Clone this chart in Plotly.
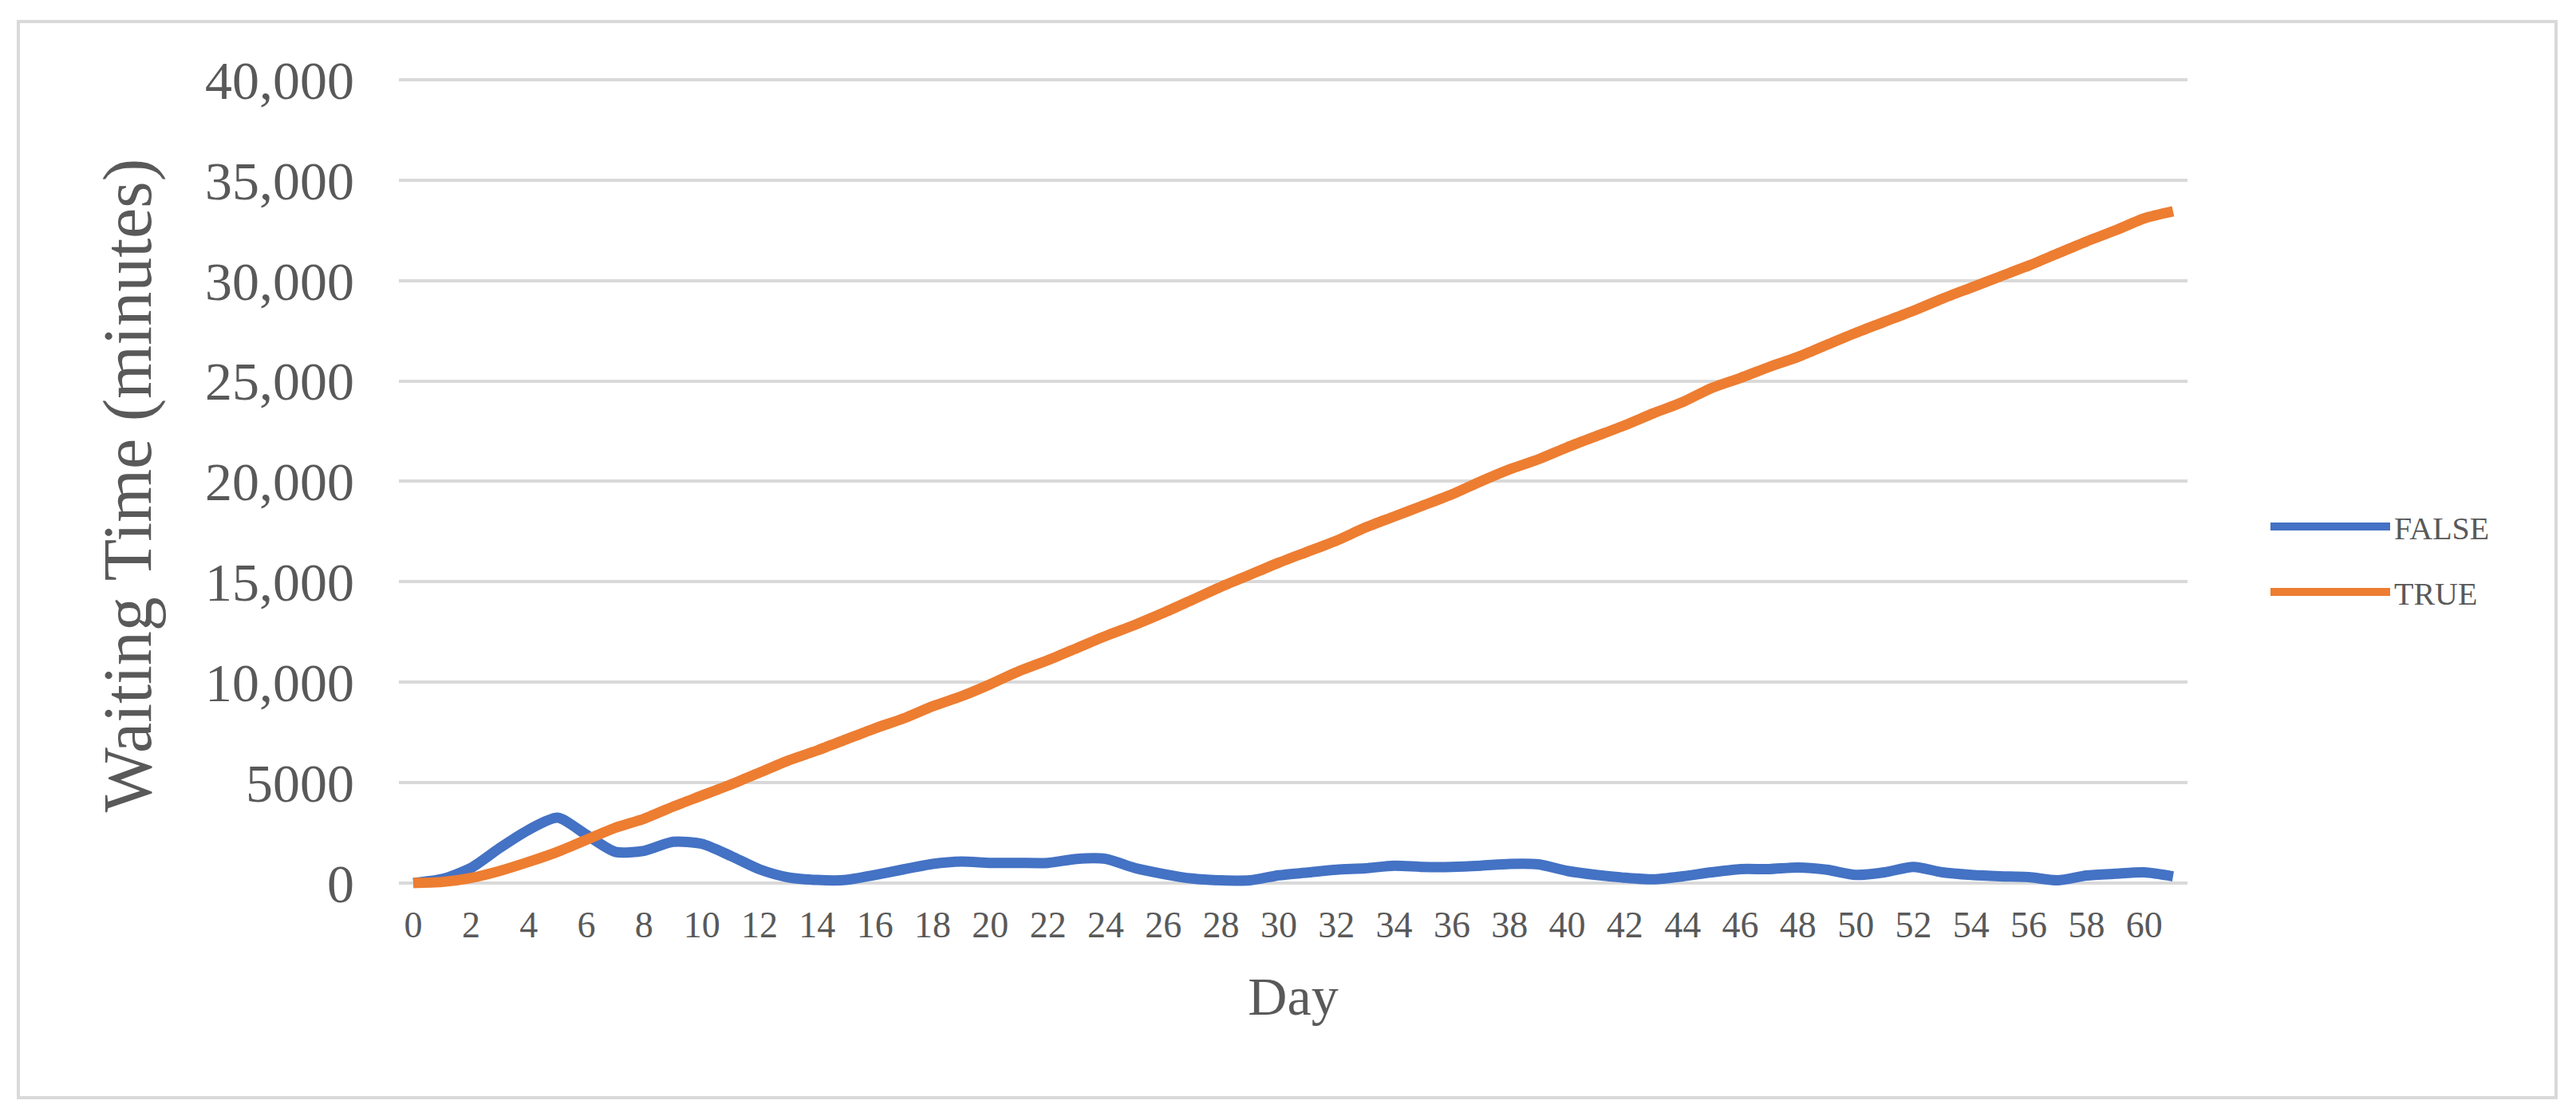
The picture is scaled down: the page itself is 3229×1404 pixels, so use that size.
import plotly.graph_objects as go

# ---- data ----
days = list(range(0, 62))
false_wait = [0, 200, 750, 1750, 2650, 3250, 2400, 1550, 1600, 2050,
              1950, 1350, 680, 280, 150, 150, 400, 680, 950, 1070,
              1000, 1000, 1000, 1200, 1200, 750, 450, 220, 130, 130,
              380, 520, 660, 730, 860, 800, 800, 860, 950, 930,
              600, 400, 260, 180, 330, 530, 690, 690, 770, 660,
              400, 530, 800, 530, 400, 330, 290, 130, 370, 460,
              530, 330]
true_wait = [0, 50, 250, 600, 1050, 1550, 2150, 2750, 3200, 3800,
             4350, 4900, 5500, 6100, 6600, 7150, 7700, 8200, 8800, 9300,
             9900, 10550, 11100, 11700, 12300, 12850, 13450, 14100, 14750, 15350,
             15950, 16500, 17050, 17700, 18250, 18800, 19350, 20000, 20600, 21100,
             21700, 22250, 22800, 23400, 23950, 24650, 25150, 25700, 26200, 26800,
             27400, 27950, 28500, 29100, 29650, 30200, 30750, 31350, 31950, 32500,
             33100, 33450]
series_names = ["FALSE", "TRUE"]
series_colors = ["#4472C4", "#ED7D31"]
x_tick_vals = list(range(0, 61, 2))
y_tick_vals = [0, 5000, 10000, 15000, 20000, 25000, 30000, 35000, 40000]
y_tick_text = ["0", "5000", "10,000", "15,000", "20,000", "25,000", "30,000", "35,000", "40,000"]

FONT = "Liberation Serif, Times New Roman, serif"
TXT = "#595959"
OFF = 8  # default page body margin
W, H = 3229, 1404
L, T = 500 - OFF, 90 - OFF
R = W - (2742 - OFF)
B = H - (1127 - OFF)
pw, ph = W - L - R, H - T - B


def px_x(v):  # viewport x -> paper
    return (v - OFF - L) / pw


def px_y(v):  # viewport y -> paper
    return (H - B - (v - OFF)) / ph


fig = go.Figure()
for name, ys, col in zip(series_names, [false_wait, true_wait], series_colors):
    fig.add_trace(go.Scatter(
        x=days, y=ys, name=name, mode="lines",
        line=dict(color=col, width=13, shape="spline", smoothing=0.7),
        legendgroup=name,
    ))

fig.update_layout(
    width=W, height=H,
    margin=dict(l=L, r=R, t=T, b=B, autoexpand=False),
    paper_bgcolor="white", plot_bgcolor="white",
    font=dict(family=FONT, color=TXT),
    showlegend=True,
    legend=dict(
        x=px_x(2841), xanchor="left",
        y=px_y(701), yanchor="middle",
        font=dict(family=FONT, size=40, color=TXT),
        itemwidth=150, tracegroupgap=27,
        bgcolor="rgba(0,0,0,0)",
    ),
    xaxis=dict(
        range=[-0.5, 61.5],
        tickmode="array", tickvals=x_tick_vals,
        showgrid=False, zeroline=False, showline=False, ticks="",
        tickfont=dict(family=FONT, size=46, color=TXT),
        ticklabelstandoff=1,
        title=dict(text="Day", font=dict(family=FONT, size=68, color=TXT), standoff=40),
    ),
    yaxis=dict(
        range=[-800, 40400],
        tickmode="array", tickvals=y_tick_vals, ticktext=y_tick_text,
        showgrid=True, gridcolor="#D9D9D9", gridwidth=4,
        zeroline=False, showline=False, ticks="",
        tickfont=dict(family=FONT, size=68, color=TXT),
        ticklabelstandoff=55,
        title=dict(text="Waiting Time (minutes)", font=dict(family=FONT, size=86, color=TXT), standoff=38),
    ),
    shapes=[dict(
        type="rect", xref="paper", yref="paper",
        x0=px_x(23), x1=px_x(3204),
        y0=px_y(1376), y1=px_y(27),
        line=dict(color="#D9D9D9", width=4), fillcolor="rgba(0,0,0,0)", layer="below",
    )],
)

fig.write_html("out.html")
